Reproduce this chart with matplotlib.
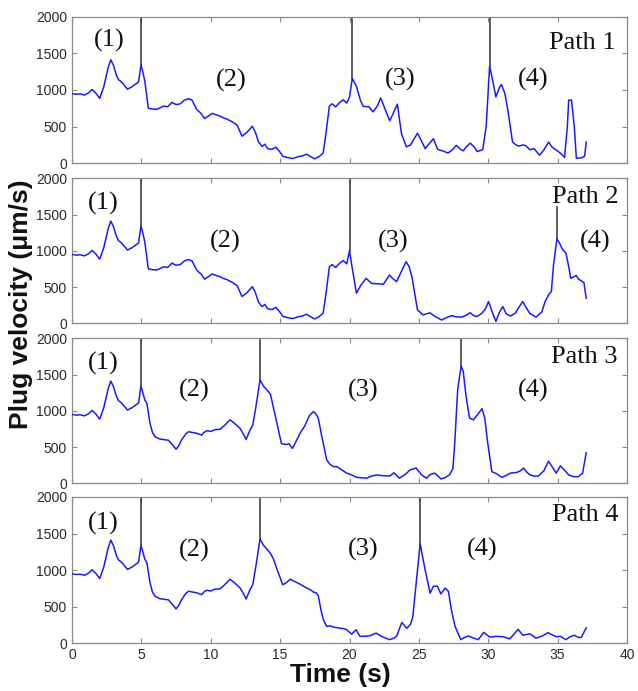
import numpy as np
import matplotlib
matplotlib.use("Agg")
import matplotlib.pyplot as plt

# ---------------- data ----------------
# shared start (t < ~5.1 s) for all paths
t_common = [0, 0.3, 0.6, 0.9, 1.2, 1.45, 1.7, 2.0, 2.3, 2.6, 2.8, 3.0, 3.2, 3.35,
            3.5, 3.7, 4.0, 4.3, 4.6, 4.8, 4.97, 5.1]
v_common = [950, 940, 945, 930, 960, 1005, 960, 885, 1050, 1300, 1410, 1330, 1200, 1140,
            1120, 1080, 1010, 1040, 1080, 1110, 1340, 1250]

# path 1 / path 2 shared mid section (5.1 - 19.8 s)
t_p12_mid = [5.25, 5.4, 5.5, 5.8, 6.1, 6.4, 6.6, 6.9, 7.2, 7.5, 7.8, 8.1, 8.4, 8.65, 9.0,
             9.3, 9.55, 9.8, 10.1, 10.4, 10.7, 10.9, 11.2, 11.6, 11.9, 12.25, 12.6, 13.0,
             13.2, 13.45, 13.7, 13.9, 14.1, 14.4, 14.7, 15.0, 15.2, 15.5, 15.9, 16.3, 16.6,
             16.9, 17.2, 17.5, 17.8, 18.1, 18.3, 18.55, 18.75, 19.0, 19.3, 19.55, 19.8]
v_p12_mid = [1120, 900, 750, 740, 735, 760, 780, 770, 830, 800, 810, 860, 880, 860, 730,
             680, 610, 640, 680, 660, 640, 620, 600, 560, 520, 370, 420, 505,
             430, 290, 230, 260, 200, 190, 220, 150, 95, 80, 65, 90, 100,
             125, 90, 60, 90, 140, 400, 780, 810, 770, 830, 865, 820]

t_p1_end = [20.0, 20.2, 20.5, 20.8, 21.0, 21.4, 21.7, 22.0, 22.25, 22.6, 22.9, 23.2, 23.45,
            23.75, 24.1, 24.4, 24.9, 25.2, 25.45, 25.8, 26.05, 26.35, 26.7, 27.1, 27.4,
            27.7, 28.0, 28.2, 28.4, 28.7, 29.0, 29.2, 29.6, 29.85, 30.1, 30.35, 30.55,
            30.8, 30.95, 31.2, 31.4, 31.75, 32.0, 32.2, 32.5, 32.7, 33.0, 33.3, 33.7,
            34.0, 34.35, 34.6, 34.95, 35.25, 35.5, 35.7, 35.8, 36.0, 36.2, 36.35, 36.75,
            36.95, 37.06]
v_p1_end = [900, 1155, 1050, 850, 775, 770, 700, 780, 890, 720, 580, 700, 805,
            400, 225, 250, 410, 300, 200, 280, 335, 190, 170, 140, 180,
            245, 190, 170, 220, 275, 220, 160, 185, 500, 1325, 1100, 905,
            1030, 1075, 950, 740, 290, 250, 235, 250, 240, 185, 200, 110,
            180, 290, 220, 175, 130, 80, 500, 860, 860, 500, 70, 75,
            100, 290]

t_p2_end = [20.0, 20.2, 20.5, 20.8, 21.2, 21.6, 22.0, 22.45, 22.88, 23.1, 23.4, 23.7, 24.08,
            24.3, 24.5, 24.9, 25.3, 25.8, 26.2, 26.65, 27.0, 27.37, 27.7, 28.1, 28.4, 28.7,
            29.0, 29.2, 29.55, 29.8, 30.02, 30.3, 30.55, 30.8, 31.05, 31.3, 31.6, 31.95,
            32.2, 32.49, 32.75, 33.0, 33.45, 33.87, 34.1, 34.34, 34.55, 34.7, 34.95, 35.15,
            35.35, 35.6, 35.8, 35.95, 36.15, 36.34, 36.5, 36.67, 36.9, 37.06]
v_p2_end = [1000, 760, 415, 520, 620, 550, 545, 540, 665, 620, 575, 700, 850,
            780, 640, 185, 115, 145, 90, 45, 80, 105, 90, 85, 110, 145,
            100, 95, 140, 200, 300, 150, 25, 150, 230, 130, 100, 140,
            220, 300, 210, 135, 85, 160, 300, 390, 440, 800, 1165, 1100,
            1020, 970, 780, 620, 640, 660, 610, 590, 560, 345]

# path 3 / path 4 shared section (5.1 - 14.15 s)
t_p34_mid = [5.25, 5.4, 5.62, 5.8, 6.0, 6.34, 6.7, 6.94, 7.2, 7.5, 7.7, 7.9, 8.2, 8.4, 8.7,
             9.0, 9.35, 9.5, 9.71, 10.0, 10.3, 10.67, 11.0, 11.39, 11.7, 12.1, 12.35,
             12.55, 12.8, 13.03, 13.25, 13.55, 13.8, 14.15, 14.3]
v_p34_mid = [1150, 1100, 830, 700, 640, 610, 600, 595, 540, 470, 520, 600, 680, 712, 700,
             690, 665, 700, 725, 715, 740, 745, 800, 875, 830, 760, 680,
             605, 720, 805, 1050, 1425, 1340, 1265, 1230]

t_p3_end = [14.5, 14.8, 15.1, 15.47, 15.65, 15.89, 16.1, 16.44, 16.8, 17.1, 17.4, 17.6,
            17.75, 18.0, 18.36, 18.6, 18.84, 19.1, 19.4, 19.8, 20.1, 20.52, 20.9, 21.24,
            21.6, 21.96, 22.4, 22.9, 23.2, 23.6, 24.0, 24.37, 24.8, 25.2, 25.55, 25.8,
            26.15, 26.6, 26.9, 27.2, 27.45, 27.57, 27.8, 28.05, 28.2, 28.4, 28.65, 28.93,
            29.3, 29.55, 29.75, 29.93, 30.26, 30.62, 30.98, 31.3, 31.58, 32.06, 32.3,
            32.54, 32.8, 33.02, 33.3, 33.6, 34.0, 34.34, 34.6, 34.9, 35.2, 35.5, 35.8,
            36.2, 36.5, 36.8, 37.06]
v_p3_end = [1060, 800, 545, 535, 545, 480, 560, 690, 800, 930, 990, 950,
            900, 650, 320, 260, 230, 230, 190, 140, 120, 82, 75, 70,
            100, 115, 105, 100, 145, 70, 120, 185, 210, 115, 70, 120,
            140, 60, 80, 115, 200, 505, 1300, 1620, 1540, 1200, 900, 875,
            965, 1030, 900, 600, 160, 130, 80, 110, 140, 150, 170,
            210, 150, 115, 100, 100, 170, 305, 230, 140, 240, 180, 115,
            90, 92, 140, 420]

t_p4_end = [14.5, 14.8, 15.19, 15.45, 15.72, 16.0, 16.32, 16.6, 16.92, 17.2, 17.4, 17.6,
            17.75, 17.95, 18.12, 18.36, 18.6, 18.84, 19.1, 19.32, 19.6, 19.8, 20.16, 20.47,
            20.76, 20.99, 21.5, 21.92, 22.3, 22.88, 23.2, 23.4, 23.77, 24.13, 24.4, 24.56,
            24.85, 25.09, 25.45, 25.81, 26.05, 26.34, 26.58, 26.89, 27.13, 27.35, 27.61,
            28.02, 28.3, 28.56, 28.9, 29.28, 29.68, 30.1, 30.6, 31.06, 31.55, 32.15, 32.5,
            33.0, 33.45, 33.9, 34.3, 34.9, 35.2, 35.6, 35.9, 36.2, 36.5, 36.7, 37.06]
v_p4_end = [1160, 1000, 800, 830, 875, 850, 820, 790, 755, 730, 700, 690,
            650, 450, 320, 230, 240, 220, 215, 205, 200, 185, 125, 185,
            95, 95, 105, 140, 95, 50, 70, 100, 285, 205, 260, 360,
            900, 1360, 1005, 685, 780, 780, 675, 755, 710, 450, 230,
            50, 80, 100, 75, 50, 150, 85, 95, 90, 60, 190, 110,
            130, 70, 100, 145, 90, 95, 50, 90, 110, 80, 80, 210]

# vertical marker lines: time, top value, bottom value (peak)
mark_t = [[5.0, 20.2, 30.1], [5.0, 20.0, 34.95], [5.0, 13.55, 28.05], [5.0, 13.55, 25.09]]
mark_top = [[2000, 2000, 2000], [2000, 2000, 1608], [2000, 2000, 2000], [2000, 2000, 2000]]
mark_bot = [[1340, 1155, 1325], [1340, 1000, 1165], [1340, 1425, 1620], [1340, 1425, 1360]]

# region labels
lab_text = ["(1)", "(2)", "(3)", "(4)"]
lab_x = [[2.65, 11.51, 23.67, 33.24], [2.26, 11.08, 23.17, 37.71],
         [2.26, 8.82, 21.0, 33.26], [2.26, 8.82, 21.0, 29.54]]
lab_y = [[1667, 1131, 1149, 1149], [1655, 1125, 1125, 1125],
         [1655, 1277, 1287, 1287], [1644, 1269, 1278, 1278]]
path_names = ["Path 1", "Path 2", "Path 3", "Path 4"]
path_x = [39.21, 39.39, 39.32, 39.39]
path_y = [1563, 1655, 1655, 1666]

x_ticks = [0, 5, 10, 15, 20, 25, 30, 35, 40]
y_ticks = [0, 500, 1000, 1500, 2000]

# assemble series
paths_t = [t_common + t_p12_mid + t_p1_end,
           t_common + t_p12_mid + t_p2_end,
           t_common + t_p34_mid + t_p3_end,
           t_common + t_p34_mid + t_p4_end]
paths_v = [v_common + v_p12_mid + v_p1_end,
           v_common + v_p12_mid + v_p2_end,
           v_common + v_p34_mid + v_p3_end,
           v_common + v_p34_mid + v_p4_end]

# ---------------- figure ----------------
W, H = 638, 691
fig = plt.figure(figsize=(W / 100, H / 100), dpi=100)

left_px, right_px = 72, 627
panels_px = [(16.5, 163.3), (178.3, 323.3), (338.3, 483.3), (497, 643.3)]

blue = "#1a1aff"
spine_col = "#8a8a8a"
tick_lab_col = "#2a2a2a"
serif = ["Liberation Serif", "DejaVu Serif"]
sans = ["Liberation Sans", "DejaVu Sans"]

for i, (top, bot) in enumerate(panels_px):
    ax = fig.add_axes([left_px / W, 1 - bot / H, (right_px - left_px) / W, (bot - top) / H])
    ax.plot(paths_t[i], paths_v[i], color=blue, lw=1.1, zorder=3)
    for mt, mtop, mb in zip(mark_t[i], mark_top[i], mark_bot[i]):
        ax.plot([mt, mt], [mtop, mb], color="#303030", lw=1.1, zorder=2)
    for txt, lx, ly in zip(lab_text, lab_x[i], lab_y[i]):
        ax.text(lx, ly, txt, ha="center", va="center", fontsize=19, family=serif, color="#111111")
    ax.text(path_x[i], path_y[i], path_names[i], ha="right", va="baseline", fontsize=19,
            family=serif, color="#111111")
    ax.set_xlim(0, 40)
    ax.set_ylim(0, 2000)
    ax.set_xticks(x_ticks)
    ax.set_yticks(y_ticks)
    ax.tick_params(direction="in", top=True, right=True, length=3.5, width=0.8,
                   color=spine_col, labelsize=10, labelcolor=tick_lab_col, pad=3.5)
    for lab in ax.get_xticklabels() + ax.get_yticklabels():
        lab.set_family(sans)
    if i < 3:
        ax.set_xticklabels([])
    for s in ax.spines.values():
        s.set_color(spine_col)
        s.set_linewidth(0.9)

fig.text(21.5 / W, 1 - 304 / H, "Plug velocity (μm/s)", rotation=90, ha="center", va="center",
         fontsize=19, fontweight="bold", family=sans, color="#111111")
fig.text(340.5 / W, 1 - 681.7 / H, "Time (s)", ha="center", va="baseline",
         fontsize=19, fontweight="bold", family=sans, color="#111111")

fig.savefig("out.png", dpi=100)
